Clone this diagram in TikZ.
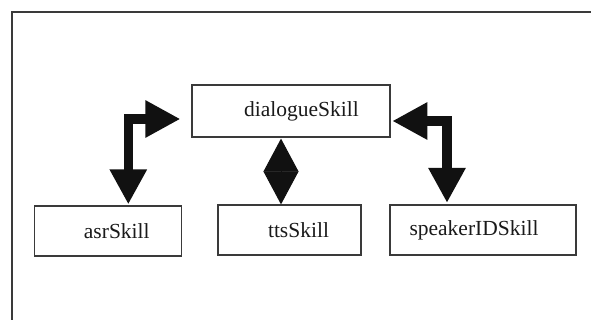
\documentclass[tikz,border=0pt]{standalone}
\usepackage{fontspec}
\setmainfont{Liberation Serif}
\usetikzlibrary{arrows.meta}
\definecolor{boxc}{HTML}{3A3A3A}
\definecolor{arrc}{HTML}{111111}
\definecolor{txtc}{HTML}{1A1A1A}
\tikzset{
  skillbox/.style={draw=boxc, line width=1.2pt, fill=white, inner sep=0pt,
    font=\fontsize{21.5}{24}\selectfont, text=txtc},
  elbowarrows/.style={draw=arrc, line width=9.5pt, line join=miter,
    {Triangle[length=35pt,width=35pt]}-{Triangle[length=35pt,width=35pt]}},
  diamondarrows/.style={draw=arrc, fill=arrc, line width=1pt,
    {Triangle[length=33pt,width=35pt]}-{Triangle[length=33pt,width=35pt]}},
}
\begin{document}
\begin{tikzpicture}[x=1pt,y=-1pt]
\useasboundingbox (0,0) rectangle (591,320);
\draw[boxc, line width=1.3pt] (12,320) -- (12,12) -- (591,12);

\node[skillbox, minimum width=198pt, minimum height=52pt] (dialogue) at (291,111) {\hspace*{21pt}dialogueSkill};
\node[skillbox, minimum width=147pt, minimum height=50pt] (asr) at (108.3,231) {\hspace*{17pt}asrSkill};
\node[skillbox, minimum width=143pt, minimum height=50pt] (tts) at (289.5,230) {\hspace*{18pt}ttsSkill};
\node[skillbox, minimum width=186pt, minimum height=50pt] (speaker) at (483,230) {speakerIDSkill\hspace*{18pt}};

\draw[elbowarrows, shorten <=1pt, shorten >=11pt] ([xshift=20pt]asr.north) |- ([yshift=-8pt]dialogue.west);
\draw[elbowarrows, shorten <=1.5pt, shorten >=1.7pt] ([xshift=-36pt]speaker.north) |- ([yshift=-10pt]dialogue.east);
\draw[diamondarrows, shorten <=1pt] ([xshift=-10pt]dialogue.south) -- ([xshift=-8.5pt]tts.north);
\end{tikzpicture}
\end{document}
